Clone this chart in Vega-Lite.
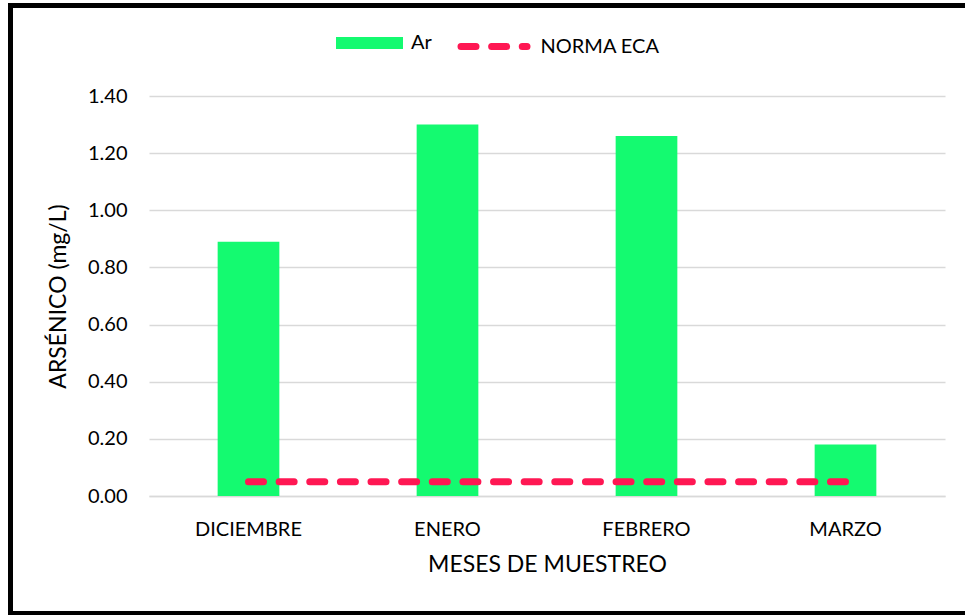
{
  "$schema": "https://vega.github.io/schema/vega-lite/v6.json",
  "width": 796,
  "height": 400,
  "autosize": {"type": "none"},
  "padding": {"left": 149, "top": 96, "right": 20, "bottom": 119},
  "background": "white",
  "config": {
    "font": "Lato",
    "view": {"stroke": null},
    "axis": {
      "labelFont": "Lato",
      "titleFont": "Lato",
      "labelColor": "#000000",
      "titleColor": "#000000",
      "titleFontWeight": "normal",
      "labelFontSize": 20,
      "titleFontSize": 23,
      "ticks": false
    },
    "legend": {
      "labelFont": "Lato",
      "labelFontSize": 20,
      "labelColor": "#000000",
      "padding": 0,
      "offset": 0
    }
  },
  "data": {
    "values": [
      {"mes": "DICIEMBRE", "ar": 0.89, "eca": 0.05},
      {"mes": "ENERO", "ar": 1.30, "eca": 0.05},
      {"mes": "FEBRERO", "ar": 1.26, "eca": 0.05},
      {"mes": "MARZO", "ar": 0.18, "eca": 0.05}
    ]
  },
  "encoding": {
    "x": {
      "field": "mes",
      "type": "nominal",
      "sort": null,
      "scale": {"paddingInner": 0.69, "paddingOuter": 0.345},
      "axis": {
        "title": "MESES DE MUESTREO",
        "labelAngle": 0,
        "labelPadding": 23,
        "titlePadding": 14,
        "domainColor": "#D9D9D9",
        "domainWidth": 1.5
      }
    }
  },
  "layer": [
    {
      "data": {"values": [{"frame": 1}]},
      "mark": {"type": "rect", "fill": null, "stroke": "#000000", "strokeWidth": 5},
      "encoding": {
        "x": {"value": -138.5},
        "x2": {"value": 819},
        "y": {"value": -90.5},
        "y2": {"value": 517.5}
      }
    },
    {
      "mark": {"type": "bar"},
      "encoding": {
        "y": {
          "field": "ar",
          "type": "quantitative",
          "scale": {"domain": [0, 1.4]},
          "axis": {
            "title": "ARSÉNICO (mg/L)",
            "values": [0, 0.2, 0.4, 0.6, 0.8, 1.0, 1.2, 1.4],
            "format": ".2f",
            "domain": false,
            "grid": true,
            "gridColor": "#D9D9D9",
            "gridWidth": 1.5,
            "labelPadding": 22,
            "titlePadding": 17
          }
        },
        "fill": {
          "datum": "Ar",
          "scale": {"range": ["#14FA70"]},
          "legend": {
            "orient": "none",
            "legendX": 187,
            "legendY": -86.5,
            "title": null,
            "symbolType": "M-1,-0.179H1V0.179H-1Z",
            "symbolSize": 4489,
            "symbolStrokeWidth": 0,
            "labelOffset": 8
          }
        }
      }
    },
    {
      "mark": {"type": "line", "strokeWidth": 7, "strokeDash": [15, 15.63], "strokeCap": "round"},
      "encoding": {
        "x": {"field": "mes", "type": "nominal", "sort": null, "bandPosition": 0.5},
        "y": {"field": "eca", "type": "quantitative"},
        "stroke": {
          "datum": "NORMA ECA",
          "scale": {"range": ["#FF1753"]},
          "legend": {
            "orient": "none",
            "legendX": 308.5,
            "legendY": -86,
            "title": null,
            "symbolType": "stroke",
            "symbolSize": 4356,
            "symbolStrokeWidth": 7,
            "symbolDash": [15, 15.63],
            "labelOffset": 10,
            "encode": {"symbols": {"update": {"strokeCap": {"value": "round"}}}}
          }
        }
      }
    }
  ]
}
